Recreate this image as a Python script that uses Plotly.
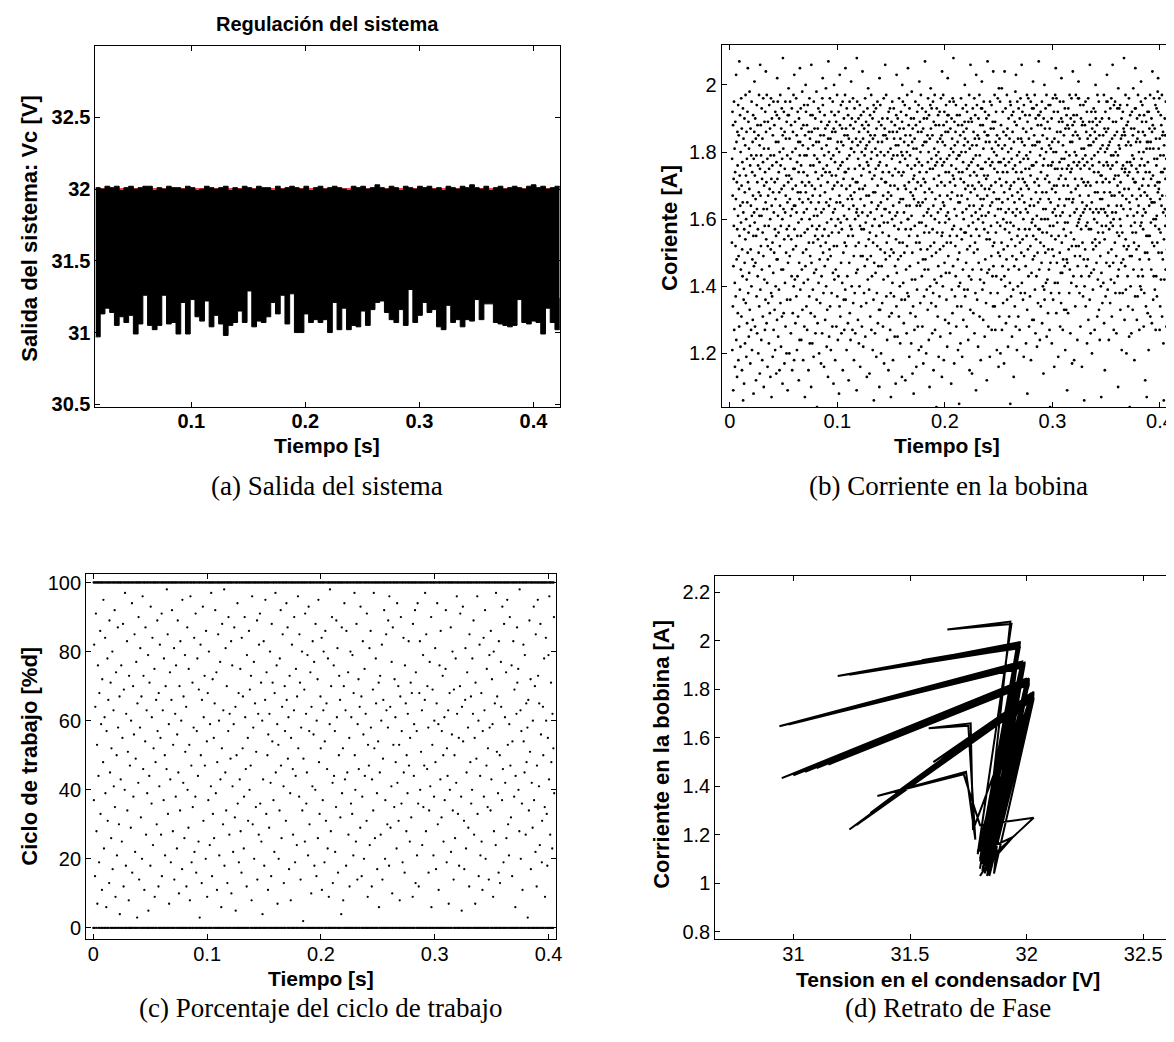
import numpy as np
import plotly.graph_objects as go

# ---------------- data ----------------
# (a) Output voltage: envelope (upper / lower) of the fast ripple, uniform in time
t_a_start, t_a_end = 0.016, 0.423
vc_high = [
    32.01, 32.00, 32.02, 32.01, 32.02, 31.99, 32.01, 32.02, 32.00, 32.01, 32.02,
    32.02, 31.99, 32.01, 32.00, 32.02, 32.01, 32.01, 32.00, 32.02, 32.01, 31.99,
    32.00, 32.02, 32.01, 32.00, 32.01, 32.02, 31.99, 32.01, 32.00, 32.02, 32.01,
    32.00, 32.02, 32.01, 32.01, 31.99, 32.02, 32.00, 32.01, 32.02, 32.01, 32.00,
    32.02, 31.99, 32.01, 32.02, 32.00, 32.01, 32.02, 32.01, 32.00, 31.99, 32.02,
    32.01, 32.02, 32.00, 32.01, 32.03, 32.01, 32.00, 32.02, 32.01, 31.99, 32.02,
    32.01, 32.00, 32.02, 32.01, 32.02, 32.00, 32.01, 31.99, 32.02, 32.01, 32.00,
    32.02, 32.01, 32.03, 32.01, 32.00, 32.02, 31.99, 32.01, 32.02, 32.00, 32.01,
    32.02, 32.01, 32.00, 32.02, 32.03, 32.01, 32.02, 32.00, 32.01, 32.02, 32.01,
]
vc_low = [
    30.97, 31.13, 31.17, 31.14, 31.05, 31.11, 31.07, 31.12, 30.99, 31.06, 31.26,
    31.05, 31.02, 31.05, 31.26, 31.06, 31.07, 30.99, 31.21, 30.99, 31.23, 31.11,
    31.08, 31.22, 31.04, 31.12, 31.06, 30.98, 31.05, 31.07, 31.15, 31.07, 31.29,
    31.04, 31.08, 31.07, 31.11, 31.21, 31.13, 31.26, 31.06, 31.27, 31.00, 31.00,
    31.13, 31.07, 31.09, 31.07, 31.09, 31.00, 31.21, 31.02, 31.17, 31.02, 31.05,
    31.04, 31.15, 31.05, 31.16, 31.21, 31.22, 31.14, 31.09, 31.07, 31.16, 31.05,
    31.30, 31.07, 31.12, 31.21, 31.14, 31.16, 31.04, 31.02, 31.19, 31.07, 31.09,
    31.04, 31.09, 31.08, 31.23, 31.09, 31.20, 31.20, 31.07, 31.06, 31.05, 31.04,
    31.05, 31.23, 31.07, 31.06, 31.08, 31.07, 30.99, 31.17, 31.07, 31.02, 31.24,
]
vc_ref = 32.0

# (b) Inductor current samples (centi-amperes), uniform in time
t_b_start, t_b_end = 0.002, 0.43
corriente_cA = [
    153,178,121,192,167,134,188,109,146,172,158,195,127,163,181,141,116,174,189,152,137,166,203,124,183,148,171,113,157,186,
    176,132,161,194,118,149,185,169,128,207,155,173,139,191,164,122,180,145,159,196,131,170,187,115,151,177,143,165,193,106,
    162,184,136,175,111,157,190,147,168,123,182,154,197,135,173,160,119,186,142,178,129,165,192,150,205,171,138,189,156,125,
    181,144,169,198,133,158,176,117,187,151,164,127,179,140,195,161,121,174,148,183,130,167,191,155,108,178,146,162,186,201,
    159,173,128,190,147,166,184,112,155,179,137,194,163,126,171,188,143,157,176,120,185,150,168,197,134,161,182,114,175,206,
    139,167,188,152,179,124,161,193,145,172,118,184,156,131,177,196,149,163,110,181,170,142,189,158,127,174,192,136,165,204,
    186,154,171,129,197,163,141,178,116,152,189,167,135,181,158,123,175,194,146,169,132,187,160,113,179,151,196,138,172,107,
    164,190,137,176,153,119,185,168,144,195,127,162,179,150,188,133,171,157,121,192,166,140,183,155,114,177,148,191,130,202,
    172,148,195,161,125,183,156,174,139,190,168,115,180,152,164,197,135,176,158,122,187,145,169,193,131,178,160,111,185,208,
    145,181,163,132,192,170,154,117,186,175,141,162,195,128,167,184,150,173,120,189,157,136,179,165,109,191,147,171,155,199,
    191,158,173,120,184,149,166,195,136,178,161,126,188,154,172,143,193,163,115,180,169,132,186,151,175,197,140,164,118,203,
    157,175,142,189,164,129,181,170,152,196,137,162,185,121,177,155,143,192,168,131,183,159,174,112,190,147,166,124,179,205,
    183,139,168,193,155,176,124,187,160,145,171,198,133,165,182,150,118,188,174,141,162,194,128,179,156,107,185,170,146,200,
    168,192,151,134,179,163,188,127,173,157,194,142,181,166,115,186,153,171,137,196,160,123,184,149,176,191,132,165,110,206,
    147,186,170,158,123,191,167,139,182,153,176,119,195,161,144,179,187,131,169,155,190,126,174,163,145,183,198,136,157,104,
    178,161,129,187,154,172,193,141,165,183,120,158,177,148,192,167,135,185,152,170,117,189,162,143,181,173,126,196,155,202,
    194,150,175,138,163,185,116,179,157,191,146,168,130,187,174,153,199,140,165,182,122,176,159,133,188,171,148,113,184,207,
    155,180,164,125,189,151,174,196,134,166,184,149,121,178,160,192,138,173,156,186,128,169,195,144,162,179,111,187,152,200,
    170,142,191,163,177,118,186,158,145,173,189,128,165,181,152,197,137,171,183,124,160,175,143,192,156,108,180,167,134,203,
    188,165,131,176,159,194,147,183,126,170,157,187,141,177,195,115,164,182,150,172,136,190,161,127,185,153,174,197,139,205,
    136,174,187,152,169,121,193,160,178,143,185,166,129,191,155,175,112,184,163,147,179,195,132,170,158,188,124,167,181,201,
    181,157,140,190,166,183,127,172,155,196,135,164,187,149,118,180,168,193,138,175,160,126,189,152,171,184,144,162,109,208,
    163,195,171,145,182,130,178,161,190,153,123,186,169,140,176,194,158,116,183,166,149,191,134,173,157,180,128,188,162,204,
    149,169,184,122,175,192,157,138,187,164,179,146,170,196,125,181,159,152,189,135,167,182,113,177,148,193,161,142,186,199,
    176,188,154,167,139,183,114,174,156,191,131,185,162,149,178,197,127,165,180,143,172,158,190,121,184,153,168,136,194,106,
    192,147,173,160,185,126,168,181,144,175,193,155,119,187,163,138,179,152,195,170,129,183,164,146,176,189,133,158,110,202,
    158,177,133,194,151,180,165,120,188,172,146,161,183,135,190,156,174,128,167,185,142,196,159,117,179,163,187,150,171,206,
    185,163,148,171,197,137,176,153,184,124,166,190,159,143,180,168,115,192,155,174,131,186,162,149,193,127,170,181,138,107,
    167,151,189,132,178,160,195,141,173,186,118,164,179,150,193,137,184,158,170,125,188,146,175,161,111,182,154,191,134,203,
    144,186,162,179,125,190,169,148,182,157,174,131,196,165,153,187,140,177,123,184,166,149,192,159,180,136,173,113,189,200,
    179,153,195,166,141,174,187,129,162,183,150,170,194,136,178,112,185,157,169,145,191,164,126,180,152,197,138,176,160,205,
    160,182,137,188,171,155,119,193,164,146,179,185,132,168,157,190,123,175,161,198,142,183,150,114,187,167,134,172,181,108,
    190,166,173,127,184,158,176,142,195,131,169,188,153,116,181,164,178,139,192,155,171,128,186,147,165,194,121,177,159,201,
    153,174,189,164,135,180,151,197,170,122,186,159,143,176,193,128,165,182,148,187,117,172,161,190,137,156,183,145,168,207,
    171,148,166,192,158,120,183,174,139,190,162,151,185,133,177,196,145,163,180,124,191,156,169,110,184,175,140,194,152,199,
    187,161,135,178,193,149,168,126,185,157,175,195,138,164,115,189,172,153,181,142,197,160,127,176,166,188,134,150,179,104,
    141,193,177,156,170,183,131,162,191,146,180,119,173,188,159,137,192,167,151,184,125,178,163,196,143,171,185,155,113,204,
    176,156,183,140,165,197,152,188,118,177,164,192,147,170,182,130,159,186,174,144,194,161,136,189,153,178,122,167,191,202,
    162,186,149,191,129,174,160,179,144,195,155,171,126,187,166,153,181,111,176,190,139,168,184,157,132,196,173,146,180,208,
    195,172,158,117,189,163,182,137,170,152,186,143,194,175,128,161,178,155,191,134,167,183,148,121,188,165,179,140,174,105,
    150,179,191,165,141,185,123,172,157,196,134,180,167,154,188,119,174,162,193,145,177,130,186,160,171,182,139,156,189,200,
    184,137,169,180,156,194,147,163,187,128,175,192,151,166,139,183,170,124,189,158,176,143,197,164,115,181,152,173,133,206,
    168,190,155,142,177,161,189,114,182,170,145,193,159,178,132,186,164,150,174,196,126,169,184,153,191,138,162,179,109,203,
    157,182,173,194,136,167,151,185,176,122,160,190,147,171,184,155,197,131,179,163,142,188,166,118,175,193,145,170,161,201,
    193,164,139,175,188,159,130,181,166,195,141,173,157,186,125,169,192,148,177,161,183,135,172,190,154,112,185,167,144,207,
    173,156,185,128,162,191,178,145,169,183,154,119,195,164,176,138,187,158,170,149,194,127,181,165,177,143,189,152,134,204,
    146,187,168,180,153,175,197,134,161,189,127,171,183,156,192,143,166,179,121,185,159,174,138,196,163,150,182,116,177,199,
    166,131,184,172,149,195,158,120,177,163,188,142,170,153,199,127,181,165,146,192,174,135,160,186,151,178,117,168,143,204,
    182,157,140,176,193,162,129,185,171,148,159,197,136,174,187,152,166,122,180,145,190,163,177,131,156,184,169,141,195,105,
    159,194,170,137,181,154,178,191,125,167,149,186,162,175,139,192,158,113,183,171,146,165,189,134,176,152,198,161,128,203,
    174,148,188,163,121,179,195,155,168,140,184,131,172,193,157,145,180,166,127,190,153,177,162,196,138,169,184,150,174,206,
    141,183,167,192,154,172,136,187,160,178,119,194,149,165,182,171,138,157,191,175,146,163,123,186,179,155,170,197,133,108,
    189,162,151,178,196,143,169,184,128,175,157,191,164,137,180,152,173,195,118,166,187,144,159,176,193,130,182,160,148,201,
    155,176,193,130,164,185,149,171,197,139,182,158,126,190,168,154,177,143,194,161,122,183,172,150,188,135,165,191,157,207,
    170,191,145,183,157,124,179,166,153,192,134,174,188,160,147,181,195,129,168,156,185,140,176,163,114,190,152,178,139,200,
    136,160,187,172,150,193,163,141,180,168,197,125,156,184,173,142,189,160,132,176,151,194,166,145,182,171,127,187,158,104,
    194,147,165,181,138,176,155,190,123,169,183,151,177,162,196,136,158,180,149,192,170,116,184,163,141,175,197,154,168,205,
    161,180,132,196,170,147,186,159,175,141,192,164,119,183,155,172,189,138,166,177,150,195,128,161,186,144,173,135,190,202,
    178,153,175,144,189,162,127,182,148,195,170,157,185,133,178,164,146,193,159,121,187,172,155,180,133,166,191,148,175,109,
    147,188,159,170,132,193,176,151,187,166,138,179,197,145,161,183,126,174,190,156,168,141,196,175,152,117,183,165,188,204,
    185,166,143,191,177,154,118,189,162,180,149,172,134,186,169,197,152,179,140,163,191,158,176,124,185,146,170,196,159,201,
    152,196,177,160,138,184,167,149,194,128,175,161,190,157,143,181,172,116,188,165,153,178,189,137,162,194,171,148,181,106,
    176,140,163,188,151,179,195,134,170,158,186,146,164,192,123,177,159,184,148,171,196,130,167,182,157,143,189,175,136,206,
    163,185,170,126,182,157,144,192,178,165,120,187,153,176,189,139,162,151,183,193,145,174,160,179,127,186,168,154,192,200,
    190,152,184,163,147,171,188,159,131,197,168,142,180,156,174,162,195,133,177,185,153,124,189,166,149,181,173,140,163,107,
    144,173,158,190,166,135,182,171,156,185,141,176,163,197,129,168,187,154,115,180,162,192,137,172,158,186,147,195,177,203,
    181,161,195,139,176,187,150,164,182,124,190,157,171,146,183,168,135,193,175,159,142,179,196,151,167,131,184,162,176,206,
    158,189,147,179,160,127,194,172,141,167,185,153,195,173,138,180,162,189,149,126,177,164,186,156,193,170,143,179,110,199,
    173,145,182,155,193,168,138,181,160,194,133,171,158,184,164,147,190,121,175,185,156,167,138,192,176,148,163,187,152,208,
    186,169,130,174,185,146,175,197,154,139,182,166,120,188,151,177,194,161,143,173,189,134,183,152,169,196,125,174,165,104,
    149,177,191,163,140,182,158,187,126,176,149,192,167,179,156,133,185,172,199,145,161,178,153,187,118,171,159,193,137,205,
    171,193,156,183,175,151,166,130,190,162,184,137,174,197,143,186,164,152,180,169,127,191,148,176,183,140,158,167,195,201,
    139,159,178,145,189,170,194,161,143,186,157,172,180,128,163,191,138,176,168,185,150,112,196,162,174,134,189,155,181,107,
    183,167,150,192,132,177,155,183,170,121,192,148,164,187,174,155,181,197,131,166,183,159,172,145,190,165,129,186,153,204,
    165,188,173,136,181,160,143,196,152,178,165,187,139,170,158,194,127,160,184,143,176,193,161,137,178,153,171,198,168,202,
    192,150,181,169,157,196,171,127,184,166,134,179,156,191,142,174,188,164,150,197,131,167,185,174,148,186,162,123,179,106,
    154,182,142,175,190,163,185,158,172,145,195,161,178,128,185,167,151,173,193,158,177,142,189,163,196,138,175,159,187,200,
    177,164,195,153,131,188,149,175,192,160,181,124,167,196,152,180,170,137,184,162,118,190,173,157,184,169,145,192,132,206,
    143,191,160,187,172,150,179,167,137,183,156,190,171,158,184,133,197,164,148,178,186,155,135,181,168,192,150,176,163,109,
    184,156,176,140,166,191,129,182,159,175,142,168,194,145,173,189,160,126,185,171,153,194,165,179,140,157,183,168,190,203,
    162,178,189,171,148,160,186,153,195,127,179,164,183,162,139,176,152,191,173,142,166,182,197,130,171,186,149,163,177,201,
]

# (c) Duty cycle samples (%), uniform in time
t_c_start, t_c_end = 0.0, 0.405
ciclo_pct = [
    0,100,37,82,0,100,15,64,100,91,0,28,100,53,7,100,76,0,44,100,19,68,100,0,86,33,100,59,0,100,11,72,
    100,0,48,95,100,23,0,61,100,84,39,0,100,6,57,100,0,78,31,100,66,0,100,13,89,100,45,0,71,100,26,52,
    0,100,80,17,0,100,63,41,100,0,92,35,100,9,0,74,100,50,21,0,100,87,58,100,0,30,100,67,4,0,100,43,
    100,76,0,25,100,55,0,88,100,12,69,0,100,40,97,100,0,18,62,100,0,83,34,100,51,0,100,8,73,100,0,47,
    0,100,29,60,0,100,94,16,100,0,70,38,100,56,0,85,100,22,0,49,100,77,0,100,3,65,100,0,42,90,100,14,
    100,0,58,81,100,32,0,67,100,20,0,96,100,46,73,0,100,11,100,0,54,87,100,27,0,63,100,39,0,100,79,5,
    0,100,44,71,0,100,18,93,100,0,36,61,100,84,0,24,100,52,0,100,75,9,100,0,48,100,66,0,30,100,89,57,
    100,0,12,68,100,41,0,82,100,55,0,27,100,91,15,0,100,63,100,0,37,78,100,0,50,21,100,70,0,100,46,98,
    0,100,85,33,0,100,59,7,100,0,74,43,100,19,0,66,100,92,0,100,28,53,100,0,81,14,100,0,62,100,38,76,
    100,0,23,56,100,89,0,45,100,10,0,70,100,34,83,0,100,60,100,0,17,95,100,0,42,67,100,0,26,100,79,51,
    0,100,64,12,0,100,87,40,100,0,29,75,100,53,0,8,100,96,0,100,47,19,100,0,71,35,100,0,58,100,84,22,
    100,0,38,91,100,16,0,57,100,78,0,44,100,25,69,0,100,3,100,0,82,50,100,0,13,66,100,0,93,100,31,61,
    0,100,73,47,0,100,20,86,100,0,54,9,100,68,0,37,100,80,0,100,24,59,100,0,41,97,100,0,15,100,72,33,
    100,0,55,26,100,65,0,92,100,39,0,74,100,11,48,0,100,85,100,0,60,21,100,0,77,43,100,0,6,100,52,88,
    0,100,30,63,0,100,98,18,100,0,45,81,100,34,0,70,100,13,0,100,57,90,100,0,27,62,100,0,49,100,83,10,
    100,0,76,41,100,22,0,59,100,87,0,32,100,64,5,0,100,50,100,0,94,36,100,0,68,19,100,0,43,100,75,28,
    0,100,16,84,0,100,52,67,100,0,23,38,100,90,0,61,100,46,0,100,12,79,100,0,55,31,100,0,86,100,40,69,
    100,0,47,73,100,8,0,96,100,30,0,58,100,77,20,0,100,65,100,0,35,51,100,0,89,14,100,0,62,100,27,82,
    0,100,91,36,0,100,71,25,100,0,60,4,100,43,0,83,100,18,0,100,66,95,100,0,33,74,100,0,50,100,11,56,
    100,0,29,62,100,80,0,42,100,15,0,88,100,54,71,0,100,37,100,0,22,68,100,0,97,45,100,0,76,100,59,7,
    0,100,53,20,0,100,34,78,100,0,92,47,100,26,0,64,100,85,0,100,41,13,100,0,70,57,100,0,31,100,94,66,
    100,0,87,49,100,61,0,17,100,73,0,39,100,8,55,0,100,82,100,0,46,27,100,0,63,90,100,0,19,100,44,75,
    0,100,24,67,0,100,96,52,100,0,38,85,100,71,0,14,100,58,0,100,80,34,100,0,2,49,100,0,69,100,25,91,
    100,0,62,36,100,45,0,79,100,21,0,93,100,57,30,0,100,74,100,0,10,64,100,0,41,83,100,0,56,100,77,18,
    0,100,40,88,0,100,15,60,100,0,72,26,100,95,0,48,100,33,0,100,67,52,100,0,84,11,100,0,37,100,63,80,
    100,0,19,54,100,86,0,31,100,65,0,46,100,23,78,0,100,9,100,0,59,98,100,0,28,70,100,0,90,100,42,13,
    0,100,76,44,0,100,57,22,100,0,35,89,100,61,0,81,100,16,0,100,50,73,100,0,66,32,100,0,4,100,87,39,
    100,0,52,8,100,70,0,94,100,43,0,63,100,18,86,0,100,45,100,0,74,27,100,0,55,12,100,0,80,100,36,61,
    0,100,33,79,0,100,21,68,100,0,97,50,100,40,0,25,100,88,0,100,14,59,100,0,72,46,100,0,64,100,29,93,
    100,0,67,15,100,38,0,83,100,56,0,20,100,75,44,0,100,62,100,0,31,91,100,0,9,53,100,0,47,100,81,24,
    0,100,86,58,0,100,12,43,100,0,69,34,100,97,0,52,100,26,0,100,78,65,100,0,39,17,100,0,54,100,71,6,
    100,0,45,73,100,27,0,60,100,82,0,14,100,49,66,0,100,92,100,0,20,37,100,0,85,63,100,0,30,100,58,89,
    0,100,18,96,0,100,64,29,100,0,41,77,100,10,0,87,100,53,0,100,35,72,100,0,61,48,100,0,23,100,94,42,
    100,0,70,31,100,53,0,8,100,67,0,90,100,36,57,0,100,19,100,0,84,45,100,0,16,76,100,0,65,100,28,50,
    0,100,39,62,0,100,83,47,100,0,25,55,100,71,0,32,100,68,0,100,9,88,100,0,44,59,100,0,92,100,13,74,
    100,0,57,21,100,94,0,36,100,12,0,68,100,83,40,0,100,51,100,0,63,24,100,0,79,35,100,0,47,100,66,97,
    0,100,28,85,0,100,46,70,100,0,58,16,100,34,0,77,100,41,0,100,90,6,100,0,53,69,100,0,21,100,38,60,
    100,0,81,48,100,17,0,65,100,94,0,30,100,59,11,0,100,76,100,0,43,86,100,0,32,57,100,0,73,100,50,25,
    0,100,61,37,0,100,75,92,100,0,19,52,100,44,0,63,100,7,0,100,68,40,100,0,87,22,100,0,56,100,80,34,
    100,0,14,69,100,50,0,26,100,78,0,42,100,96,62,0,100,33,100,0,55,18,100,0,70,91,100,0,38,100,5,64,
    0,100,93,54,0,100,31,17,100,0,66,81,100,23,0,45,100,74,0,100,58,29,100,0,12,85,100,0,48,100,67,36,
    100,0,40,78,100,62,0,89,100,27,0,55,100,7,71,0,100,49,100,0,96,33,100,0,60,15,100,0,82,100,44,21,
    0,100,68,25,0,100,11,57,100,0,84,38,100,63,0,92,100,20,0,100,47,75,100,0,35,52,100,0,14,100,79,58,
    100,0,34,86,100,43,0,72,100,59,0,9,100,80,28,0,100,65,100,0,24,97,100,0,51,67,100,0,39,100,16,83,
    0,100,50,13,0,100,77,64,100,0,37,93,100,46,0,19,100,88,0,100,61,42,100,0,74,26,100,0,95,100,53,30,
    100,0,21,59,100,90,0,47,100,32,0,76,100,15,54,0,100,83,100,0,38,69,100,0,6,44,100,0,62,100,87,71,
    0,100,75,40,0,100,28,98,100,0,63,20,100,57,0,36,100,11,0,100,82,54,100,0,45,79,100,0,27,100,65,48,
    100,0,58,3,100,66,0,34,100,89,0,51,100,72,17,0,100,42,100,0,29,60,100,0,93,37,100,0,70,100,22,85,
    0,100,12,47,0,100,95,73,100,0,41,65,100,24,0,88,100,56,0,100,19,31,100,0,64,50,100,0,78,100,35,9,
    100,0,84,60,100,33,0,18,100,55,0,79,100,43,96,0,100,27,100,0,71,48,100,0,23,62,100,0,52,100,90,39,
]

# (d) Phase portrait trajectory: capacitor voltage [V] vs inductor current [A]
fase_v = [
    31.80, 31.96, 31.19, 31.97,
    31.82, 31.93, 31.66, 31.935,
    31.79, 31.98, 30.94, 31.99,
    31.83, 32.00, 30.95, 32.01,
    31.81, 32.03, 31.24, 32.03,
    31.84, 31.97, 31.28, 31.96,
    31.80, 31.99, 31.02, 31.98,
    31.85, 32.01, 31.05, 32.00,
    31.82, 32.02, 31.30, 32.03,
    31.86, 31.96, 31.40, 31.97,
    31.80, 31.98, 31.15, 31.99,
    31.83, 32.00, 31.15, 32.01,
    31.80, 32.02, 31.36, 32.02,
    31.84, 31.97, 31.55, 31.96,
    31.81, 31.98, 31.35, 31.99,
    31.85, 32.01, 31.30, 32.00,
    31.82, 32.03, 31.45, 32.02,
    31.79, 31.99, 31.60, 31.98,
    31.83, 32.00, 31.50, 32.01,
    31.86, 32.02, 31.60, 32.03,
    31.81, 31.97, 31.24, 31.96,
    31.84, 31.99, 30.98, 31.98,
    31.80, 32.01, 31.00, 32.00,
    31.83, 32.03, 31.27, 32.02,
    31.85, 32.02, 31.33, 32.03,
    31.82, 32.00, 31.10, 32.01,
    31.77, 31.76, 31.58, 31.75,
    31.78, 31.74, 31.36, 31.73,
    31.80, 32.03, 31.84,
    31.85, 31.94, 31.82,
    31.80,
]
fase_i = [
    1.06, 1.99, 1.855, 1.975,
    1.10, 2.08, 2.047, 2.07,
    1.12, 1.915, 1.648, 1.895,
    1.05, 1.845, 1.434, 1.825,
    1.08, 1.785, 1.222, 1.765,
    1.03, 1.995, 1.868, 1.98,
    1.13, 1.905, 1.665, 1.89,
    1.07, 1.84, 1.46, 1.825,
    1.15, 1.775, 1.26, 1.76,
    1.04, 1.985, 1.89, 1.97,
    1.10, 1.91, 1.70, 1.90,
    1.12, 1.835, 1.49, 1.82,
    1.14, 1.78, 1.31, 1.765,
    1.06, 1.99, 1.92, 1.975,
    1.09, 1.915, 1.75, 1.90,
    1.11, 1.845, 1.55, 1.83,
    1.04, 1.79, 1.38, 1.775,
    1.13, 1.91, 1.81, 1.90,
    1.08, 1.84, 1.63, 1.83,
    1.12, 1.78, 1.50, 1.77,
    1.05, 1.985, 1.86, 1.97,
    1.14, 1.91, 1.655, 1.895,
    1.09, 1.84, 1.445, 1.83,
    1.03, 1.78, 1.24, 1.77,
    1.10, 1.785, 1.29, 1.77,
    1.07, 1.845, 1.475, 1.835,
    1.22, 1.66, 1.64, 1.65,
    1.18, 1.46, 1.36, 1.45,
    1.24, 1.27, 1.10,
    1.15, 1.19, 1.06,
    1.03,
]

# tick labels
a_xticks, a_xtext = [0.1, 0.2, 0.3, 0.4], ["0.1", "0.2", "0.3", "0.4"]
a_yticks, a_ytext = [30.5, 31, 31.5, 32, 32.5], ["30.5", "31", "31.5", "32", "32.5"]
b_xticks, b_xtext = [0, 0.1, 0.2, 0.3, 0.4], ["0", "0.1", "0.2", "0.3", "0.4"]
b_yticks, b_ytext = [1.2, 1.4, 1.6, 1.8, 2.0], ["1.2", "1.4", "1.6", "1.8", "2"]
c_xticks, c_xtext = [0, 0.1, 0.2, 0.3, 0.4], ["0", "0.1", "0.2", "0.3", "0.4"]
c_yticks, c_ytext = [0, 20, 40, 60, 80, 100], ["0", "20", "40", "60", "80", "100"]
d_xticks, d_xtext = [31, 31.5, 32, 32.5], ["31", "31.5", "32", "32.5"]
d_yticks, d_ytext = [0.8, 1, 1.2, 1.4, 1.6, 1.8, 2, 2.2], ["0.8", "1", "1.2", "1.4", "1.6", "1.8", "2", "2.2"]

# ---------------- figure ----------------
W, H = 1174, 1042


def fx(px):
    return px / W


def fy(py):
    return 1 - py / H


fig = go.Figure()

t_a = np.linspace(t_a_start, t_a_end, len(vc_low))
fig.add_trace(go.Scatter(x=[t_a[0], t_a[-1]], y=[vc_ref, vc_ref], mode="lines",
                         line=dict(color="#ff0000", width=1.5), xaxis="x", yaxis="y"))
fig.add_trace(go.Scatter(x=t_a, y=vc_high, mode="lines",
                         line=dict(color="black", width=1, shape="hv"), xaxis="x", yaxis="y"))
fig.add_trace(go.Scatter(x=t_a, y=vc_low, mode="lines", fill="tonexty", fillcolor="black",
                         line=dict(color="black", width=1, shape="hv"), xaxis="x", yaxis="y"))

t_b = np.linspace(t_b_start, t_b_end, len(corriente_cA))
fig.add_trace(go.Scatter(x=t_b, y=np.array(corriente_cA) / 100.0, mode="markers",
                         marker=dict(size=2.8, color="black", line=dict(width=0)),
                         xaxis="x2", yaxis="y2"))

t_c = np.linspace(t_c_start, t_c_end, len(ciclo_pct))
fig.add_trace(go.Scatter(x=t_c, y=ciclo_pct, mode="markers",
                         marker=dict(size=2.3, color="black", line=dict(width=0)),
                         xaxis="x3", yaxis="y3"))

fig.add_trace(go.Scatter(x=fase_v, y=fase_i, mode="lines",
                         line=dict(color="black", width=2.0), xaxis="x4", yaxis="y4"))


def axis(domain, rng, tv, tt, anchor, mirror="ticks", bold=False, standoff=0):
    return dict(domain=domain, range=rng, tickvals=tv, ticktext=tt, anchor=anchor,
                showline=True, linecolor="black", linewidth=1, mirror=mirror,
                ticks="inside", ticklen=5, tickwidth=1, tickcolor="black",
                showgrid=False, zeroline=False, fixedrange=True,
                ticklabelstandoff=standoff,
                tickfont=dict(family="Liberation Sans, Arial, sans-serif", size=20,
                              color="black", weight="bold" if bold else "normal"))


fig.update_layout(
    width=W, height=H, margin=dict(l=0, r=0, t=0, b=0),
    paper_bgcolor="white", plot_bgcolor="white", showlegend=False,
    xaxis=axis([fx(88), fx(555)], [0.016, 0.423], a_xticks, a_xtext, "y", bold=True, standoff=-4),
    yaxis=axis([fy(401), fy(36)], [30.48, 33.0], a_yticks, a_ytext, "x", bold=True),
    xaxis2=axis([fx(718), 1.0], [-0.0075, 0.414], b_xticks, b_xtext, "y2", standoff=-4),
    yaxis2=axis([fy(401), fy(35)], [1.04, 2.12], b_yticks, b_ytext, "x2", mirror=False),
    xaxis3=axis([fx(78.5), fx(551)], [-0.0064, 0.4063], c_xticks, c_xtext, "y3", standoff=-3),
    yaxis3=axis([fy(938), fy(569)], [-3.2, 102.6], c_yticks, c_ytext, "x3"),
    xaxis4=axis([fx(711.5), 1.0], [30.665, 32.636], d_xticks, d_xtext, "y4", standoff=-3),
    yaxis4=axis([fy(938), fy(571)], [0.77, 2.27], d_yticks, d_ytext, "x4", mirror=False),
)

sans = "Liberation Sans, Arial, sans-serif"
serif = "Liberation Serif, Times New Roman, serif"


def label(text, x, y, size=21, angle=0, family=sans, bold=True):
    fig.add_annotation(text=("<b>%s</b>" % text) if bold else text,
                       x=fx(x), y=fy(y), xref="paper", yref="paper",
                       xanchor="center", yanchor="middle", showarrow=False,
                       textangle=angle, font=dict(family=family, size=size, color="black"))


label("Regulación del sistema", 321, 14, size=20)
label("Salida del sistema: Vc [V]", 22, 220, size=22, angle=-90)
label("Tiempo [s]", 321, 440, size=21)
label("(a) Salida del sistema", 321, 481, size=27, family=serif, bold=False)

label("Coriente [A]", 666, 220, size=22, angle=-90)
label("Tiempo [s]", 945, 440, size=21)
label("(b) Corriente en la bobina", 946, 481, size=27, family=serif, bold=False)

label("Ciclo de trabajo [%d]", 22, 753, size=22, angle=-90)
label("Tiempo [s]", 315, 978, size=21)
label("(c) Porcentaje del ciclo de trabajo", 315, 1008, size=27, family=serif, bold=False)

label("Corriente en la bobina [A]", 658, 752, size=22, angle=-90)
label("Tension en el condensador [V]", 946, 979, size=21)
label("(d) Retrato de Fase", 946, 1008, size=27, family=serif, bold=False)

fig.write_html("out.html")
